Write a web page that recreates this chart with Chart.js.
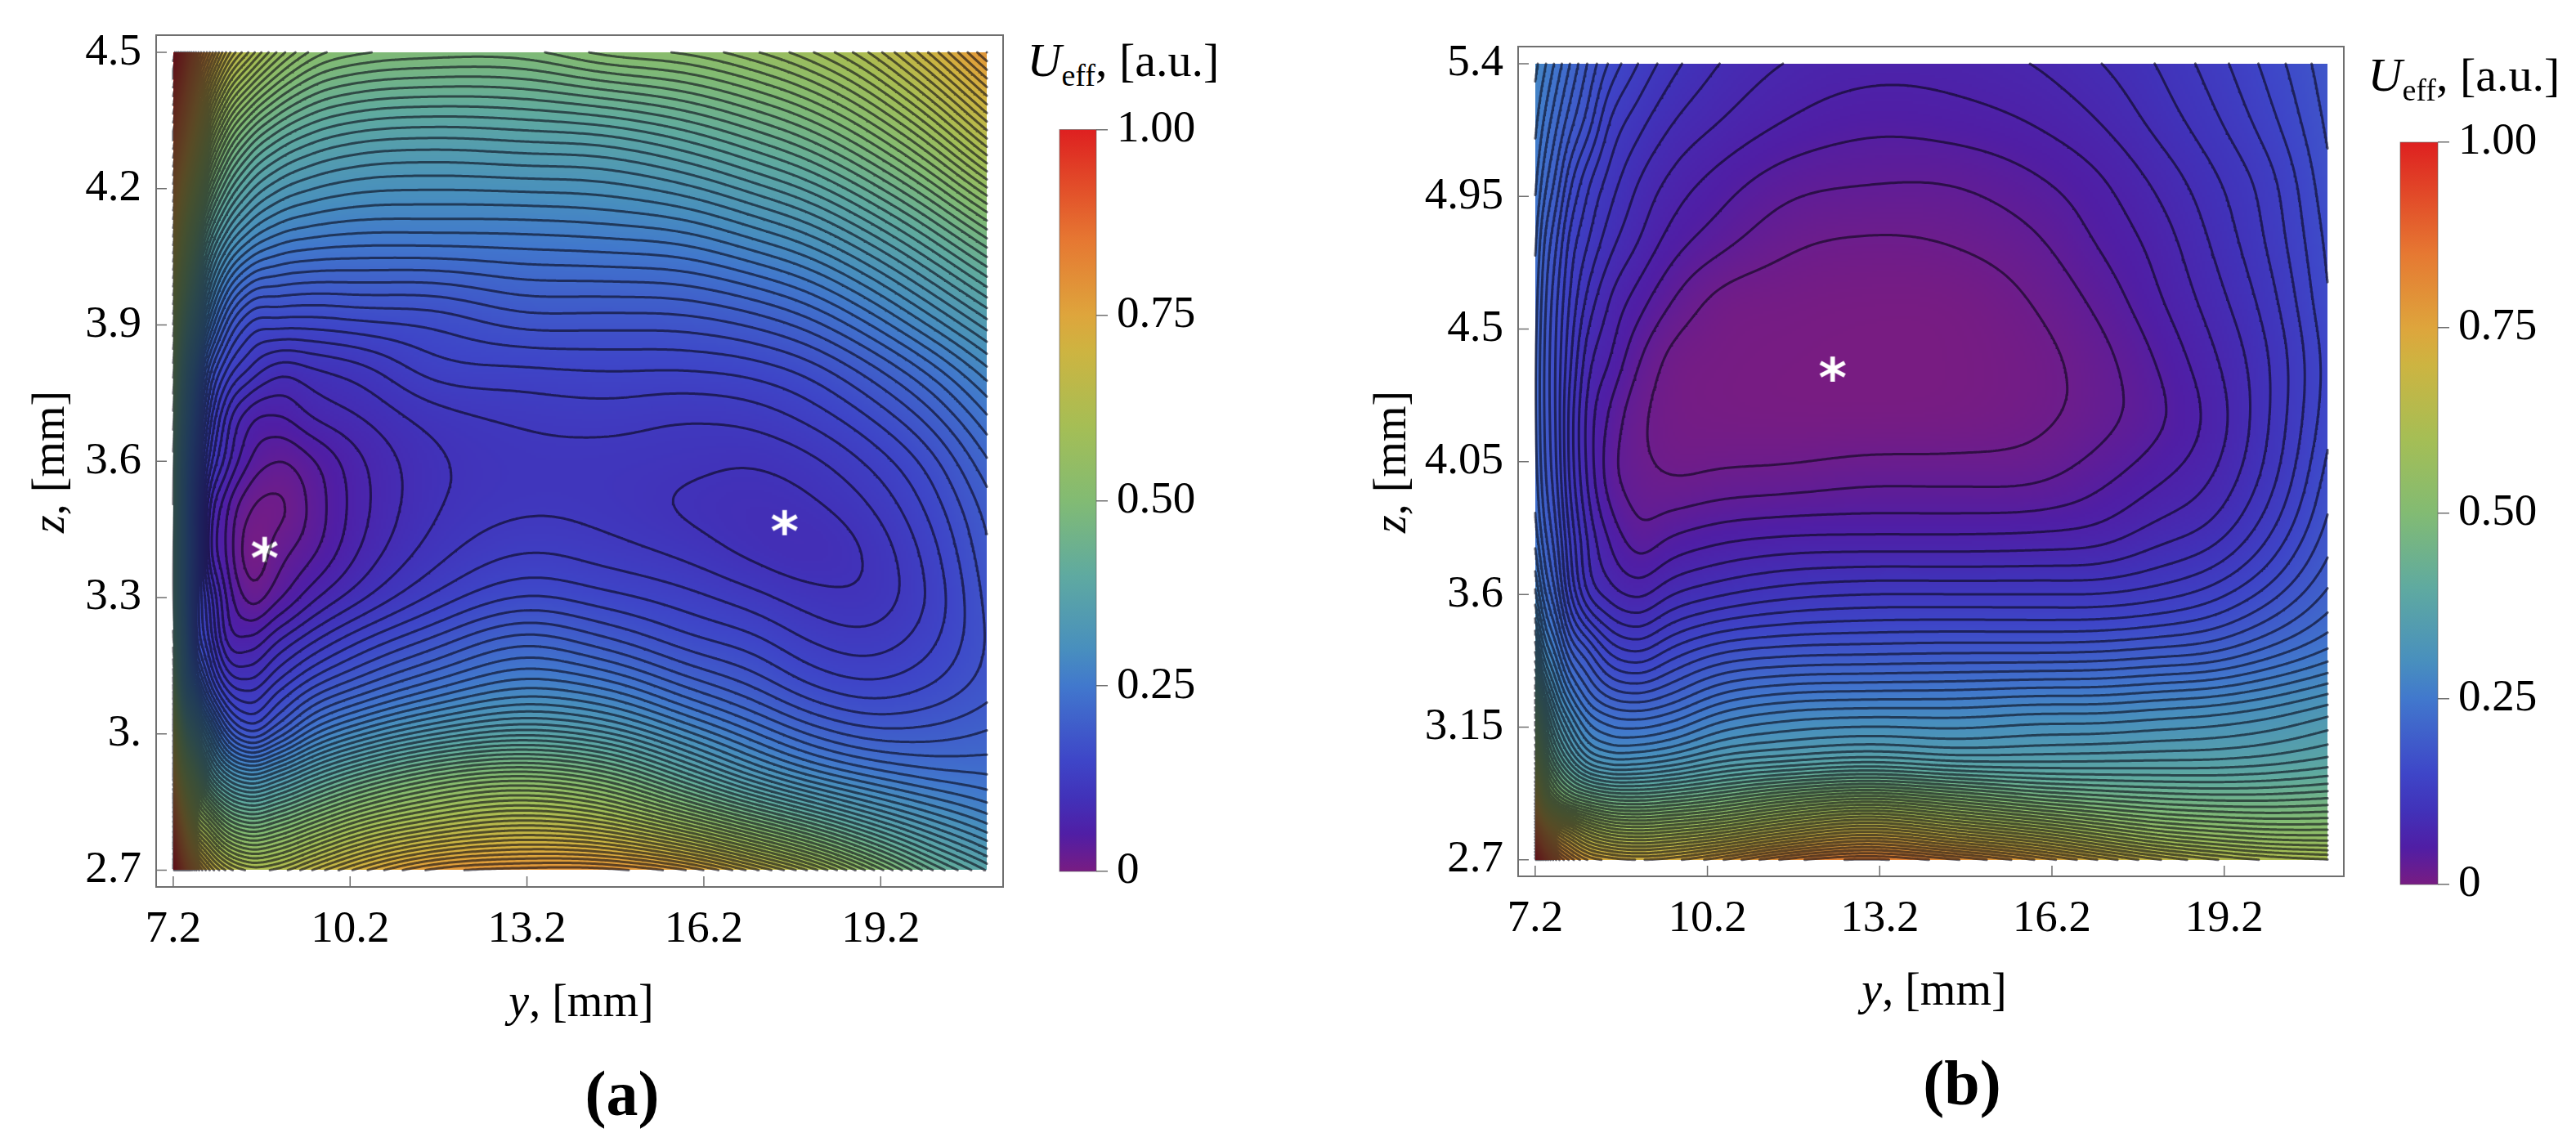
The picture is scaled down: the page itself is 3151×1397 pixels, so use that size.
<!DOCTYPE html>
<html>
<head>
<meta charset="utf-8">
<title>U_eff</title>
<script src="https://cdn.jsdelivr.net/npm/chart.js@4"></script>
<style>
body { margin: 0; background: #fff; width: 3151px; height: 1397px; position: relative; overflow: hidden; font-family: 'Liberation Serif', serif; color: #000; }
canvas { position: absolute; }
.lab { position: absolute; font-size: 56px; white-space: nowrap; transform: translate(-50%, -50%); }
.rot { transform: translate(-50%, -50%) rotate(-90deg); }
.cap { font-size: 78px; font-weight: bold; }
.ttl { font-size: 58px; }
sub { font-size: 38px; line-height: 0; }
</style>
</head>
<body>
<canvas id="plotA" width="1250" height="1190" style="left:0;top:0"></canvas>
<canvas id="barA" width="200" height="990" style="left:1280px;top:120px"></canvas>
<canvas id="plotB" width="1190" height="1170" style="left:1700px;top:0"></canvas>
<canvas id="barB" width="200" height="1000" style="left:2920px;top:130px"></canvas>

<div class="lab ttl" style="left:1374px;top:73px"><i>U</i><sub>eff</sub>, [a.u.]</div>
<div class="lab ttl" style="left:3014px;top:91px"><i>U</i><sub>eff</sub>, [a.u.]</div>
<div class="lab rot" style="left:59px;top:565px"><i>z</i>, [mm]</div>
<div class="lab rot" style="left:1700px;top:565px"><i>z</i>, [mm]</div>
<div class="lab" style="left:711px;top:1224px"><i>y</i>, [mm]</div>
<div class="lab" style="left:2366px;top:1210px"><i>y</i>, [mm]</div>
<div class="lab cap" style="left:761px;top:1338px">(a)</div>
<div class="lab cap" style="left:2400px;top:1325px">(b)</div>

<script>
// grid columns (y, mm), panel a has 13.2 where panel b has 13
const yColsA = [7.2, 7.35, 7.55, 7.8, 8.1, 8.5, 9, 9.6, 10.4, 11.5, 13.2, 14.5, 16, 17, 18, 19, 20, 21];
const yColsB = [7.2, 7.35, 7.55, 7.8, 8.1, 8.5, 9, 9.6, 10.4, 11.5, 13, 14.5, 16, 17, 18, 19, 20, 21];
const zRowsA = [4.5, 4.3, 4.1, 3.9, 3.8, 3.7, 3.6, 3.5, 3.4, 3.3, 3.2, 3.1, 3, 2.9, 2.8, 2.7];
const zRowsB = [5.4, 5.2, 5, 4.8, 4.6, 4.4, 4.2, 4, 3.8, 3.6, 3.4, 3.2, 3, 2.9, 2.8, 2.7];

// U_eff, top row first
const valuesA = [
	[1, .93, .84, .76, .68, .62, .56, .515, .495, .487, .488, .512, .526, .547, .577, .623, .695, .783],
	[.85, .78, .68, .58, .5, .44, .4, .375, .36, .355, .36, .365, .39, .415, .445, .49, .55, .63],
	[.7, .6, .5, .41, .345, .3, .275, .265, .26, .26, .261, .265, .275, .295, .32, .36, .41, .47],
	[.55, .45, .36, .27, .2, .157, .15, .15, .155, .16, .178, .178, .18, .19, .21, .245, .29, .34],
	[.5, .39, .29, .2, .145, .113, .093, .1, .11, .136, .142, .145, .145, .15, .165, .195, .235, .285],
	[.46, .35, .25, .16, .1, .065, .058, .075, .088, .107, .12, .123, .118, .122, .136, .16, .195, .245],
	[.43, .32, .22, .13, .08, .043, .029, .043, .071, .096, .11, .11, .106, .103, .112, .133, .165, .215],
	[.42, .31, .2, .094, .048, .017, .012, .035, .068, .097, .113, .11, .098, .093, .098, .115, .148, .195],
	[.41, .31, .2, .087, .043, .007, .023, .042, .075, .106, .13, .123, .11, .097, .09, .103, .136, .185],
	[.41, .31, .19, .116, .058, .025, .042, .07, .098, .13, .16, .15, .135, .122, .108, .105, .131, .178],
	[.43, .33, .2, .135, .075, .065, .09, .118, .148, .178, .215, .195, .165, .152, .131, .123, .14, .175],
	[.5, .36, .27, .19, .13, .113, .142, .177, .206, .24, .275, .26, .215, .19, .162, .15, .16, .182],
	[.62, .47, .38, .3, .22, .18, .21, .26, .3, .34, .37, .35, .29, .25, .215, .195, .195, .205],
	[.74, .6, .5, .41, .35, .32, .345, .39, .44, .49, .52, .49, .4, .34, .295, .265, .245, .235],
	[.88, .74, .62, .56, .5, .47, .49, .53, .58, .62, .65, .63, .56, .5, .44, .38, .33, .29],
	[1, .88, .77, .7, .65, .62, .63, .67, .72, .77, .79, .79, .75, .69, .62, .53, .44, .375]
];
const valuesB = [
	[.28, .265, .244, .218, .189, .157, .13, .106, .087, .0725, .064, .065, .074, .086, .1015, .123, .151, .183],
	[.265, .245, .222, .195, .168, .13, .107, .087, .0725, .058, .048, .051, .06, .072, .091, .112, .14, .177],
	[.25, .225, .2, .165, .136, .11, .087, .068, .052, .036, .03, .03, .042, .055, .075, .098, .125, .17],
	[.235, .205, .178, .142, .118, .093, .0725, .051, .035, .019, .013, .016, .028, .045, .063, .089, .119, .163],
	[.225, .195, .165, .13, .099, .0725, .051, .029, .01, .005, .002, .0035, .017, .033, .055, .08, .11, .158],
	[.22, .19, .16, .12, .081, .058, .031, .01, .0035, .001, 0, .001, .01, .023, .044, .07, .1015, .151],
	[.22, .19, .16, .112, .07, .041, .019, .007, .0035, .002, .002, .0035, .011, .0225, .039, .063, .1015, .154],
	[.225, .195, .165, .115, .0725, .037, .021, .0145, .017, .019, .024, .024, .026, .038, .054, .072, .109, .165],
	[.24, .21, .18, .13, .087, .055, .035, .0435, .052, .057, .058, .058, .06, .064, .08, .094, .13, .18],
	[.28, .24, .205, .15, .105, .081, .07, .087, .099, .11, .116, .116, .116, .116, .123, .138, .167, .206],
	[.35, .3, .26, .21, .18, .145, .133, .153, .174, .183, .186, .188, .188, .19, .196, .203, .225, .25],
	[.46, .4, .34, .29, .249, .226, .22, .232, .261, .278, .284, .284, .29, .29, .296, .302, .313, .33],
	[.59, .51, .45, .4, .36, .34, .34, .35, .37, .385, .4, .385, .38, .38, .38, .38, .385, .395],
	[.7, .6, .54, .5, .475, .455, .45, .46, .48, .52, .55, .52, .48, .465, .455, .45, .45, .455],
	[.84, .76, .7, .66, .62, .59, .58, .59, .61, .65, .69, .65, .61, .575, .545, .53, .52, .52],
	[.98, .9, .83, .78, .74, .72, .71, .72, .75, .8, .83, .8, .75, .71, .67, .64, .62, .61]
];

// star markers
const minimaA = [{x: 8.75, y: 3.407}, {x: 17.57, y: 3.466}];
const minimaB = [{x: 12.38, y: 4.366}];

// ticks
const yTicks = [7.2, 10.2, 13.2, 16.2, 19.2];
const yTickLabels = ['7.2', '10.2', '13.2', '16.2', '19.2'];
const zTicksA = [2.7, 3, 3.3, 3.6, 3.9, 4.2, 4.5];
const zTickLabelsA = ['2.7', '3.', '3.3', '3.6', '3.9', '4.2', '4.5'];
const zTicksB = [2.7, 3.15, 3.6, 4.05, 4.5, 4.95, 5.4];
const zTickLabelsB = ['2.7', '3.15', '3.6', '4.05', '4.5', '4.95', '5.4'];
const barTicks = [0, 0.25, 0.5, 0.75, 1];
const barTickLabels = ['0', '0.25', '0.50', '0.75', '1.00'];

const levelStep = 0.0145;
const colorStops = [
	[0, 120, 28, 130], [.05, 80, 30, 165], [.1, 65, 50, 185], [.15, 62, 70, 200], [.25, 65, 120, 205],
	[.3, 72, 143, 190], [.4, 95, 170, 160], [.5, 130, 187, 115], [.6, 165, 190, 85], [.7, 205, 180, 65],
	[.75, 222, 165, 60], [.85, 230, 120, 50], [1, 222, 32, 32]
];

const serif = "'Liberation Serif', serif";
const grey = '#6f6f6f';
const tickFont = {family: serif, size: 55, lineHeight: 1};

function colorAt(u) {
	let i = 1;
	while (i < colorStops.length - 1 && u > colorStops[i][0]) i++;
	const a = colorStops[i - 1], b = colorStops[i];
	const t = Math.max(0, Math.min(1, (u - a[0]) / (b[0] - a[0])));
	return [a[1] + (b[1] - a[1]) * t, a[2] + (b[2] - a[2]) * t, a[3] + (b[3] - a[3]) * t];
}

function tangents(xs, vs) {
	const n = xs.length, ts = [];
	for (let i = 0; i < n; i++) {
		if (i === 0) ts.push((vs[1] - vs[0]) / (xs[1] - xs[0]));
		else if (i === n - 1) ts.push((vs[n - 1] - vs[n - 2]) / (xs[n - 1] - xs[n - 2]));
		else {
			const h0 = xs[i] - xs[i - 1], h1 = xs[i + 1] - xs[i];
			ts.push(((vs[i] - vs[i - 1]) / h0 * h1 + (vs[i + 1] - vs[i]) / h1 * h0) / (h0 + h1));
		}
	}
	return ts;
}

function hermite(xs, vs, ts, x) {
	let i = 0;
	while (i < xs.length - 2 && x > xs[i + 1]) i++;
	const h = xs[i + 1] - xs[i], s = (x - xs[i]) / h;
	const s2 = s * s, s3 = s2 * s;
	return (2 * s3 - 3 * s2 + 1) * vs[i] + (s3 - 2 * s2 + s) * h * ts[i] + (-2 * s3 + 3 * s2) * vs[i + 1] + (s3 - s2) * h * ts[i + 1];
}

// blur width in cells, tight on the steep left side
function sigmaAt(y) {
	const t = Math.max(0, Math.min(1, (y - 8.2) / 2.8));
	return 0.7 + 5.5 * t * t * (3 - 2 * t);
}

function blurLine(vals, sig) {
	const n = vals.length, out = new Array(n);
	for (let i = 0; i < n; i++) {
		const s = sig(i);
		const r = Math.min(Math.ceil(2 * s), i, n - 1 - i);
		let sum = 0, w = 0;
		for (let q = -r; q <= r; q++) {
			const g = Math.exp(-q * q / (2 * s * s));
			sum += g * vals[i + q];
			w += g;
		}
		out[i] = sum / w;
	}
	return out;
}

// smooth the read grid for drawing only, steps about 3 px
function fineField(cols, rowsTopDown, table, pxW, pxH) {
	const zs = rowsTopDown.slice().reverse();
	const rows = table.slice().reverse();
	const nx = Math.round(pxW / 3), nz = Math.round(pxH / 3);
	const fx = [], fz = [];
	for (let i = 0; i <= nx; i++) fx.push(cols[0] + (cols[cols.length - 1] - cols[0]) * i / nx);
	for (let j = 0; j <= nz; j++) fz.push(zs[0] + (zs[zs.length - 1] - zs[0]) * j / nz);
	const along = rows.map(r => {
		const ts = tangents(cols, r);
		return fx.map(x => hermite(cols, r, ts, x));
	});
	const field = fz.map(() => new Array(nx + 1));
	for (let i = 0; i <= nx; i++) {
		const col = along.map(r => r[i]);
		const ts = tangents(zs, col);
		const fine = fz.map(z => hermite(zs, col, ts, z));
		const s = sigmaAt(fx[i]);
		const soft = blurLine(fine, () => s);
		for (let j = 0; j <= nz; j++) field[j][i] = soft[j];
	}
	for (let j = 0; j <= nz; j++) {
		const soft = blurLine(field[j], i => sigmaAt(fx[i]));
		for (let i = 0; i <= nx; i++) field[j][i] = Math.max(0, Math.min(1, soft[i]));
	}
	return {fx, fz, field};
}

// one dataset for all levels, so crowded lines do not add up to black
function contourDataset(f) {
	const {fx, fz, field} = f;
	const out = [];
	for (let j = 0; j < fz.length - 1; j++) {
		for (let i = 0; i < fx.length - 1; i++) {
			const a = field[j][i], b = field[j][i + 1], c = field[j + 1][i + 1], d = field[j + 1][i];
			const lo = Math.min(a, b, c, d), hi = Math.max(a, b, c, d);
			for (let k = Math.ceil(lo / levelStep); k * levelStep <= hi; k++) {
				if (k < 1) continue;
				const L = k * levelStep, p = [];
				if ((a >= L) !== (b >= L)) p.push({x: fx[i] + (fx[i + 1] - fx[i]) * (L - a) / (b - a), y: fz[j]});
				if ((b >= L) !== (c >= L)) p.push({x: fx[i + 1], y: fz[j] + (fz[j + 1] - fz[j]) * (L - b) / (c - b)});
				if ((d >= L) !== (c >= L)) p.push({x: fx[i] + (fx[i + 1] - fx[i]) * (L - d) / (c - d), y: fz[j + 1]});
				if ((a >= L) !== (d >= L)) p.push({x: fx[i], y: fz[j] + (fz[j + 1] - fz[j]) * (L - a) / (d - a)});
				for (let q = 0; q + 1 < p.length; q += 2) out.push(p[q], p[q + 1], {x: null, y: null});
			}
		}
	}
	return {
		data: out,
		showLine: true,
		pointRadius: 0,
		borderColor: 'rgba(8,6,20,0.6)',
		borderWidth: 3,
		borderCapStyle: 'round'
	};
}

function starImage() {
	const c = document.createElement('canvas');
	c.width = 44; c.height = 44;
	const x = c.getContext('2d');
	x.font = "bold 66px 'DejaVu Sans'";
	x.fillStyle = '#fff';
	x.textAlign = 'center';
	x.textBaseline = 'alphabetic';
	const m = x.measureText('*');
	x.fillText('*', 22, 22 + (m.actualBoundingBoxAscent - m.actualBoundingBoxDescent) / 2);
	return c;
}

function heatPlugin(f) {
	const off = document.createElement('canvas');
	off.width = f.fx.length;
	off.height = f.fz.length;
	const octx = off.getContext('2d');
	const img = octx.createImageData(off.width, off.height);
	for (let j = 0; j < off.height; j++) {
		for (let i = 0; i < off.width; i++) {
			const rgb = colorAt(f.field[off.height - 1 - j][i]);
			const o = (j * off.width + i) * 4;
			img.data[o] = rgb[0]; img.data[o + 1] = rgb[1]; img.data[o + 2] = rgb[2]; img.data[o + 3] = 255;
		}
	}
	octx.putImageData(img, 0, 0);
	return {
		id: 'heat',
		beforeDatasetsDraw(chart) {
			const {ctx, scales: {x, y}} = chart;
			const x0 = x.getPixelForValue(f.fx[0]), x1 = x.getPixelForValue(f.fx[f.fx.length - 1]);
			const y0 = y.getPixelForValue(f.fz[f.fz.length - 1]), y1 = y.getPixelForValue(f.fz[0]);
			ctx.drawImage(off, x0, y0, x1 - x0, y1 - y0);
		}
	};
}

const framePlugin = {
	id: 'frame',
	afterDraw(chart) {
		const {ctx, chartArea: a, scales: {x, y}} = chart;
		ctx.save();
		ctx.strokeStyle = grey;
		ctx.lineWidth = 2;
		ctx.strokeRect(a.left, a.top, a.right - a.left, a.bottom - a.top);
		ctx.lineWidth = 1.5;
		ctx.beginPath();
		x.ticks.forEach(t => {
			const p = x.getPixelForValue(t.value);
			ctx.moveTo(p, a.bottom); ctx.lineTo(p, a.bottom - 13);
		});
		y.ticks.forEach(t => {
			const p = y.getPixelForValue(t.value);
			ctx.moveTo(a.left, p); ctx.lineTo(a.left + 13, p);
		});
		ctx.stroke();
		ctx.restore();
	}
};

function tickFill(scale, values) {
	scale.ticks = values.map(v => ({value: v}));
}

function makePlot(id, f, stars, box, zTicks, zLabels, range) {
	const datasets = [contourDataset(f), {
		data: stars,
		pointStyle: starImage(),
		pointRadius: 22,
		showLine: false
	}];
	new Chart(document.getElementById(id), {
		type: 'scatter',
		data: {datasets: datasets},
		plugins: [heatPlugin(f), framePlugin],
		options: {
			responsive: false,
			animation: false,
			devicePixelRatio: 1,
			events: [],
			layout: {padding: box},
			plugins: {legend: {display: false}, tooltip: {enabled: false}},
			scales: {
				x: {
					min: range.xMin, max: range.xMax,
					grid: {display: false}, border: {display: false},
					afterBuildTicks: s => tickFill(s, yTicks),
					afterFit: s => { s.height = 70; },
					ticks: {
						color: '#000', padding: 17, maxRotation: 0, autoSkip: false,
						font: tickFont,
						callback: v => yTickLabels[yTicks.indexOf(v)]
					}
				},
				y: {
					min: range.zMin, max: range.zMax,
					grid: {display: false}, border: {display: false},
					afterBuildTicks: s => tickFill(s, zTicks),
					afterFit: s => { s.width = 130; },
					ticks: {
						color: '#000', padding: 10, autoSkip: false,
						font: tickFont,
						callback: v => zLabels[zTicks.indexOf(v)]
					}
				}
			}
		}
	});
}

const barPlugin = {
	id: 'colorbar',
	beforeDatasetsDraw(chart) {
		const {ctx, chartArea: a, scales: {y}} = chart;
		const g = ctx.createLinearGradient(0, y.getPixelForValue(0), 0, y.getPixelForValue(1));
		colorStops.forEach(s => g.addColorStop(s[0], `rgb(${s[1]},${s[2]},${s[3]})`));
		ctx.fillStyle = g;
		ctx.fillRect(a.left, a.top, a.right - a.left, a.bottom - a.top);
		ctx.strokeStyle = 'rgba(90,90,90,0.6)';
		ctx.lineWidth = 1;
		ctx.strokeRect(a.left, a.top, a.right - a.left, a.bottom - a.top);
	}
};

function makeBar(id, box) {
	new Chart(document.getElementById(id), {
		type: 'scatter',
		data: {datasets: [{data: []}]},
		plugins: [barPlugin],
		options: {
			responsive: false,
			animation: false,
			devicePixelRatio: 1,
			events: [],
			layout: {padding: box},
			plugins: {legend: {display: false}, tooltip: {enabled: false}},
			scales: {
				x: {display: false, min: 0, max: 1},
				y: {
					position: 'right',
					min: 0, max: 1,
					border: {display: false},
					grid: {drawOnChartArea: false, drawTicks: true, tickLength: 14, color: grey, lineWidth: 1.5},
					afterBuildTicks: s => tickFill(s, barTicks),
					afterFit: s => { s.width = box.w; },
					ticks: {
						color: '#000', padding: 11, autoSkip: false,
						font: tickFont,
						callback: v => barTickLabels[barTicks.indexOf(v)]
					}
				}
			}
		}
	});
}

makePlot('plotA', fineField(yColsA, zRowsA, valuesA, 1001, 1000), minimaA,
	{left: 61, top: 43, right: 17, bottom: 35}, zTicksA, zTickLabelsA,
	{xMin: 6.91, xMax: 21.276, zMin: 2.663, zMax: 4.538});
makePlot('plotB', fineField(yColsB, zRowsB, valuesB, 974, 974), minimaB,
	{left: 27, top: 57, right: 18, bottom: 28}, zTicksB, zTickLabelsB,
	{xMin: 6.903, xMax: 21.283, zMin: 2.644, zMax: 5.458});
makeBar('barA', {left: 16, top: 37, right: 0, bottom: 44, w: 139});
makeBar('barB', {left: 16, top: 44, right: 0, bottom: 48, w: 138});
</script>
</body>
</html>
